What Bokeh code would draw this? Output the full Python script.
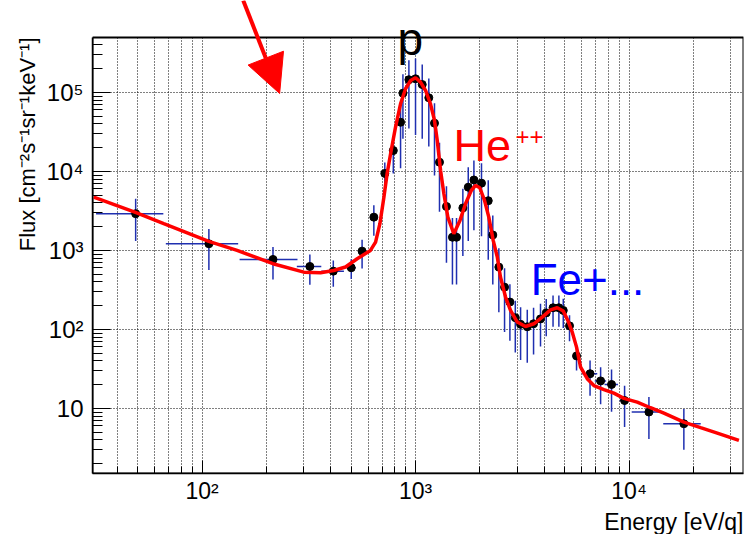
import math
from bokeh.plotting import figure
from bokeh.models import Label, Arrow, NormalHead, FixedTicker, Range1d, Title
from bokeh.embed import file_html
from bokeh.resources import INLINE

# ---------------- data ----------------
energy = [48.9, 107.7, 215, 320, 412, 500, 562, 638, 718, 787, 851, 873, 931, 1000,
          1075, 1154, 1227, 1295, 1396, 1489, 1556, 1666, 1766, 1877, 2037, 2191, 2301,
          2456, 2612, 2767, 2933, 3105, 3337, 3571, 3849, 4094, 4406, 4692, 4920, 5263,
          5677, 6567, 7360, 8280, 9530, 12390, 18060]
flux = [2920, 1215, 769, 627, 547, 604, 980, 2640, 9440, 18400, 42000, 98000, 145000,
        149000, 126000, 85700, 40900, 13100, 3600, 1470, 1470, 3450, 6320, 7800, 7110,
        4260, 1570, 615, 343, 222, 141, 116, 108, 118, 136, 162, 188, 188, 174, 111,
        46.2, 27.5, 22.3, 20.1, 12.6, 9.0, 6.4]
flux_err = [1600, 650, 340, 260, 200, 170, 390, 1100, 3500, 9000, 31000, 72000, 110000,
            120000, 100000, 65000, 32000, 10000, 2900, 1100, 1100, 2600, 5000, 6000, 5600,
            3500, 1200, 450, 250, 150, 90, 75, 70, 70, 75, 80, 80, 80, 70, 40,
            16, 13, 11, 11, 6.8, 4.9, 3.4]
energy_err = [17, 40, 65, 42, 50, 25, 15, 0, 0, 0, 0, 0, 0, 0,
              0, 0, 0, 0, 0, 0, 0, 0, 0, 0, 0, 0, 0,
              0, 0, 0, 0, 0, 0, 0, 0, 0, 0, 0, 0, 0,
              150, 530, 450, 600, 500, 2100, 3600]

fit_energy = [31.1, 48.8, 66.2, 107.6, 146, 215, 300, 359, 414, 470, 533, 615, 650, 681,
              711, 736, 769, 806, 851, 898, 949, 1000, 1055, 1114, 1175, 1227, 1264, 1310,
              1358, 1417, 1511, 1615, 1715, 1824, 1910, 2000, 2104, 2204, 2311, 2416, 2500,
              2640, 2786, 2995, 3274, 3583, 3921, 4290, 4611, 4920, 5168, 5418, 5677, 5930,
              6370, 6845, 7625, 8490, 9460, 10920, 12600, 14560, 18060, 21630, 25900, 32700]
fit_flux = [4730, 3027, 2178, 1300, 1000, 679, 531, 522, 558, 618, 785, 1000, 1274, 2180,
            4730, 9350, 18450, 36400, 71900, 111500, 141900, 153500, 135000, 106000, 71900,
            44300, 24700, 10300, 5220, 2640, 1627, 2400, 3900, 5740, 6650, 6220, 4300, 2640,
            1340, 822, 459, 257, 174, 124, 109, 118, 143, 177, 188, 171, 130, 92.5, 59.7,
            33.4, 23.8, 19.5, 17.3, 15.6, 13.4, 12.0, 10.2, 8.7, 6.7, 5.7, 4.87, 3.94]

x_major_ticks = [100, 1000, 10000]
y_major_ticks = [10, 100, 1000, 10000, 100000]
x_tick_labels = {100: "10²", 1000: "10³", 10000: "10⁴"}
y_tick_labels = {10: "10", 100: "10²", 1000: "10³", 10000: "10⁴", 100000: "10⁵"}
x_title = "Energy [eV/q]"
y_title = "Flux [cm⁻²s⁻¹sr⁻¹keV⁻¹]"

# ---------------- ranges ----------------
X_MIN, X_MAX = 30.7, 34360
Y_MIN, Y_BOX_TOP, Y_MAX = 1.5, 4.97e5, 1.46e6
FONT = "Liberation Sans"

p = figure(width=750, height=534, x_axis_type="log", y_axis_type="log",
           x_range=Range1d(X_MIN, X_MAX), y_range=Range1d(Y_MIN, Y_MAX),
           output_backend="svg", toolbar_location=None,
           min_border_left=92, min_border_right=7, min_border_top=0, min_border_bottom=61)
p.outline_line_color = None
p.background_fill_color = "white"
p.border_fill_color = "white"

x_minor = [m * 10 ** k for k in range(1, 5) for m in range(2, 10)]
y_minor = [m * 10 ** k for k in range(0, 6) for m in range(2, 10) if m * 10 ** k <= Y_BOX_TOP]
xt = FixedTicker(ticks=x_major_ticks, minor_ticks=x_minor)
yt = FixedTicker(ticks=y_major_ticks, minor_ticks=y_minor)
p.xaxis.ticker = xt
p.xgrid.ticker = xt
p.yaxis.ticker = yt
p.ygrid.ticker = yt
p.xaxis.major_label_overrides = x_tick_labels
p.yaxis.major_label_overrides = y_tick_labels
p.yaxis.bounds = (Y_MIN, Y_BOX_TOP)

for ax in (p.xaxis, p.yaxis):
    ax.axis_line_color = "black"
    ax.axis_line_width = 1.5
    ax.major_tick_line_color = "black"
    ax.minor_tick_line_color = "black"
    ax.major_tick_out = 0
    ax.minor_tick_out = 0
    ax.major_label_text_font = FONT
    ax.major_label_text_color = "black"
p.yaxis.major_label_text_font_size = "24px"
p.xaxis.major_label_text_font_size = "23px"
p.yaxis.major_tick_in = 18
p.yaxis.minor_tick_in = 10
p.xaxis.major_tick_in = 13
p.xaxis.minor_tick_in = 7
p.yaxis.major_label_standoff = 9
p.xaxis.major_label_standoff = 4

# axis titles, right-aligned as in ROOT
p.add_layout(Title(text=x_title, align="right", text_font=FONT, text_font_size="23px",
                   text_font_style="normal", text_color="black", standoff=0), "below")
p.add_layout(Title(text=y_title, align="right", offset=37, text_font=FONT,
                   text_font_size="22px", text_font_style="normal", text_color="black",
                   standoff=8), "left")

p.xgrid.grid_line_color = "black"
p.xgrid.grid_line_dash = "1 2"
p.xgrid.minor_grid_line_color = "black"
p.xgrid.minor_grid_line_dash = "1 2"
p.ygrid.grid_line_color = "black"
p.ygrid.grid_line_dash = "1 2"
p.ygrid.minor_grid_line_color = None

# white zone above the plotting box, and the box outline
p.quad(left=[X_MIN], right=[X_MAX], bottom=[Y_BOX_TOP], top=[Y_MAX],
       fill_color="white", line_color=None)
p.quad(left=[X_MIN], right=[X_MAX], bottom=[Y_MIN], top=[Y_BOX_TOP],
       fill_color=None, line_color="black", line_width=2)

# error bars
lo = [f - e for f, e in zip(flux, flux_err)]
hi = [f + e for f, e in zip(flux, flux_err)]
p.segment(x0=energy, y0=lo, x1=energy, y1=hi, line_color="#1f2fb0", line_width=1.5)
hx = [(x, dx, f) for x, dx, f in zip(energy, energy_err, flux) if dx > 0]
p.segment(x0=[x - dx for x, dx, f in hx], y0=[f for x, dx, f in hx],
          x1=[x + dx for x, dx, f in hx], y1=[f for x, dx, f in hx],
          line_color="#1f2fb0", line_width=1.5)

p.scatter(energy, flux, size=8, color="black")
p.line(fit_energy, fit_flux, line_color="#ff0000", line_width=3.5)

# annotations
p.add_layout(Label(x=824, y=4.7e5, text="p", text_font=FONT, text_font_size="46px",
                   text_color="black", text_baseline="alphabetic"))
p.add_layout(Label(x=1507, y=21300, text="He", text_font=FONT, text_font_size="45px",
                   text_color="#ff0000", text_baseline="alphabetic"))
p.add_layout(Label(x=2940, y=28000, text="++", text_font=FONT, text_font_size="24px",
                   text_color="#ff0000", text_baseline="alphabetic"))
p.add_layout(Label(x=3460, y=425, text="Fe+...", text_font=FONT, text_font_size="44px",
                   text_color="#0000ff", text_baseline="alphabetic"))

p.add_layout(Arrow(end=NormalHead(size=38, fill_color="#ff0000", line_color="#ff0000"),
                   x_start=156, y_start=Y_MAX, x_end=231, y_end=97000,
                   line_color="#ff0000", line_width=4))

open("out.html", "w").write(file_html(p, INLINE))
